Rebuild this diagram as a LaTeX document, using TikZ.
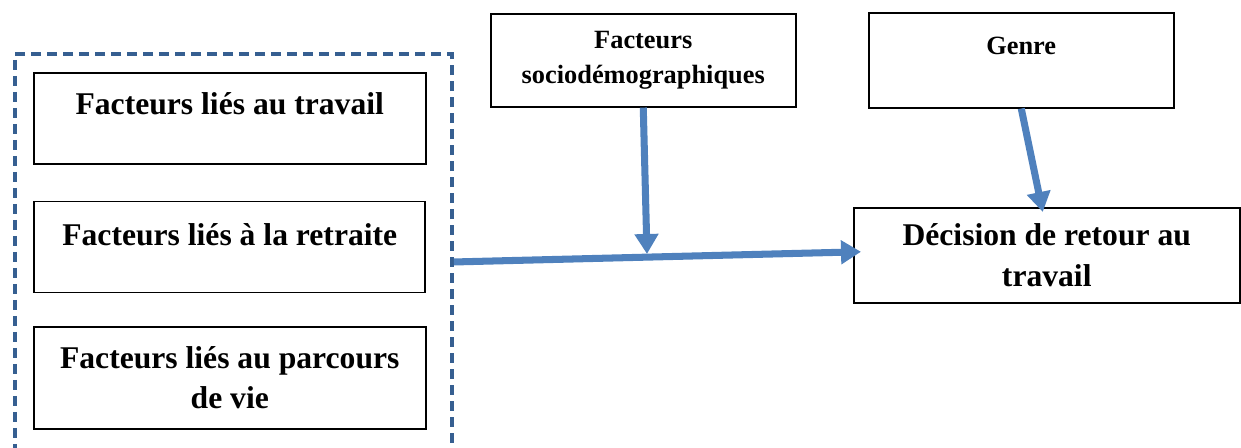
\documentclass[tikz,border=0pt]{standalone}
\usepackage{fontspec}
\setmainfont{Liberation Serif}
\usetikzlibrary{arrows.meta,positioning,calc}
\definecolor{framenavy}{RGB}{54,95,145}
\definecolor{arrowblue}{RGB}{79,129,189}
\tikzset{
  box/.style={
    draw=black,
    line width=0.9pt,
    align=center,
    inner xsep=4pt,
    font=\bfseries\fontsize{18}{23}\selectfont
  },
  smallbox/.style={box, font=\bfseries\fontsize{15}{20}\selectfont},
  group/.style={draw=framenavy, line width=2.3pt, dash pattern=on 0.2cm off 0.12cm},
  flow/.style={-{Triangle[length=0.4cm,width=0.46cm]}, draw=arrowblue, line width=4pt}
}

\begin{document}
\begin{tikzpicture}[x=0.02cm, y=-0.02cm]
  \useasboundingbox (0,0) rectangle (1241,448);
  % left group of factors
  \node[group, anchor=north west, minimum width=8.74cm, minimum height=8cm] (group) at (13,52) {};
  \node[box, anchor=north west, minimum width=7.84cm, inner ysep=0pt, text height=0.84cm, text depth=0.98cm] (work) at (33,72) {Facteurs liés au travail};
  \node[box, below=0.72cm of work, minimum width=7.82cm, inner ysep=0pt, text height=0.88cm, text depth=0.94cm] (retire) {Facteurs liés à la retraite};
  \node[box, below=0.66cm of retire, minimum width=7.84cm, minimum height=2.04cm] (life) {Facteurs liés au parcours\\de vie};
  % top factors and outcome
  \node[smallbox, anchor=north west, minimum width=6.1cm, minimum height=1.86cm] (socio) at (490,13) {Facteurs\\sociodémographiques};
  \node[smallbox, anchor=north west, minimum width=6.1cm, inner ysep=0pt, text height=0.84cm, text depth=1.06cm] (gender) at (868,12) {Genre};
  \node[box, anchor=north west, minimum width=7.72cm, minimum height=1.9cm] (decision) at (853,207) {Décision de retour au\\travail};
  \coordinate (join) at (647,254);
  % arrows
  \draw[flow] ($(group.east)+(0,8)$) -- ($(decision.west)+(8,-3.5)$);
  \draw[flow] (socio.south) -- (join);
  \draw[flow] (gender.south) -- ($(decision.north)+(-4,5)$);
\end{tikzpicture}
\end{document}
